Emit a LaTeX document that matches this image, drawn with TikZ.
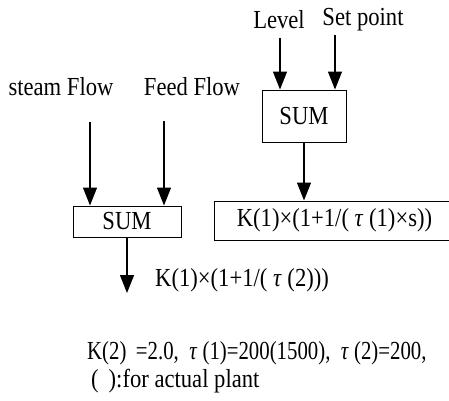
\documentclass[tikz,border=0pt]{standalone}
\usepackage{fontspec}
\setmainfont{Liberation Serif}[FakeStretch=0.87]
\newfontfamily\narrowfont{Liberation Serif}[FakeStretch=0.8]
\usetikzlibrary{arrows.meta}
\newcommand{\tauit}{\textit{τ}}
\begin{document}
\begin{tikzpicture}[x=1pt,y=-1pt,
  every node/.style={font=\fontsize{26}{30}\selectfont, inner sep=0pt},
  box/.style={draw, line width=1pt},
  flow/.style={line width=1.2pt, -{Triangle[width=14pt,length=18pt]}}]
\useasboundingbox (0,0) rectangle (449,400);
% labels
\node (lvl) at (279,20) {Level};
\node (sp) at (363,20) {Set point};
\node (stm) at (61,87) {steam Flow};
\node (fd) at (192,87) {Feed Flow};
% boxes
\node[box, minimum width=84pt, minimum height=52pt] (sum1) at (304,116) {SUM};
\node[box, minimum width=108pt, minimum height=31pt] (sum2) at (127,221.5) {SUM};
\node[box, minimum width=241pt, minimum height=39pt] (pi) at (334.5,220.5) {K(1)×(1+1/( \tauit\ (1)×s))};
% input coordinates
\coordinate (lvlS) at (280,38);
\coordinate (spS) at (335,35);
\coordinate (stmS) at (90,122);
\coordinate (fdS) at (164,121);
\coordinate (outE) at (127,293);
% arrows
\draw[flow] (lvlS) -- (lvlS |- sum1.north);
\draw[flow] (spS) -- (spS |- sum1.north);
\draw[flow] (sum1.south) -- (sum1.south |- pi.north);
\draw[flow] (stmS) -- (stmS |- sum2.north);
\draw[flow] (fdS) -- (fdS |- sum2.north);
\draw[flow] (sum2.south) -- (outE);
% output label
\node[anchor=west] (outl) at (155,280) {K(1)×(1+1/( \tauit\ (2)))};
% notes
\node[anchor=west, font=\fontsize{26}{30}\narrowfont] (n1) at (87,353) {K(2) \,=2.0, \ \tauit\ (1)=200(1500), \ \tauit\ (2)=200,};
\node[anchor=west] (n2) at (91,381) {( \,):for actual plant};
\end{tikzpicture}
\end{document}
